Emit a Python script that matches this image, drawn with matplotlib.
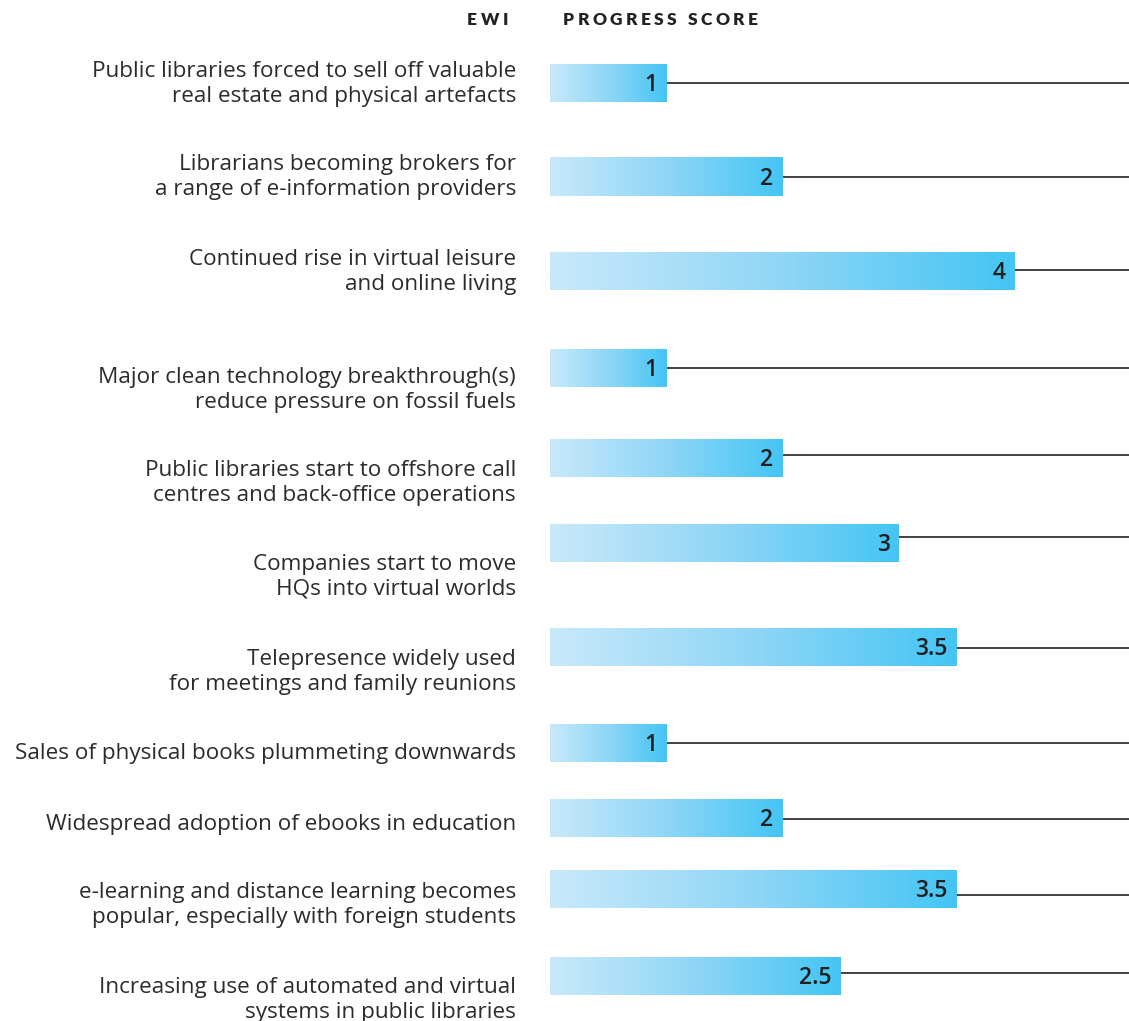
import matplotlib.pyplot as plt
import numpy as np
from matplotlib.colors import LinearSegmentedColormap

# Early warning indicators and their progress scores
indicators = [
    "Public libraries forced to sell off valuable\nreal estate and physical artefacts",
    "Librarians becoming brokers for\na range of e-information providers",
    "Continued rise in virtual leisure\nand online living",
    "Major clean technology breakthrough(s)\nreduce pressure on fossil fuels",
    "Public libraries start to offshore call\ncentres and back-office operations",
    "Companies start to move\nHQs into virtual worlds",
    "Telepresence widely used\nfor meetings and family reunions",
    "Sales of physical books plummeting downwards",
    "Widespread adoption of ebooks in education",
    "e-learning and distance learning becomes\npopular, especially with foreign students",
    "Increasing use of automated and virtual\nsystems in public libraries",
]
scores = [1, 2, 4, 1, 2, 3, 3.5, 1, 2, 3.5, 2.5]
score_labels = ["1", "2", "4", "1", "2", "3", "3.5", "1", "2", "3.5", "2.5"]

# layout (pixel rows, top-down)
bar_top = [64, 158, 252, 349, 439, 524, 628, 724, 799, 870, 957]
bar_h = 38
line_y = [83, 177, 270, 368, 455, 537, 648, 743, 819, 895, 973]
label_y = [84, 177, 272, 390, 483, 577, 672, 753, 824, 905, 1000]

W, H = 1129, 1021
x0, unit = 550, 116.25  # pixel where score 0 sits, pixels per score point

FONT = "Open Sans"
TXT = "#2b2b2b"

fig = plt.figure(figsize=(W / 100, H / 100), dpi=100)
ax = fig.add_axes([0, 0, 1, 1])
ax.axis("off")

cmap = LinearSegmentedColormap.from_list("ewi", ["#c9e9fa", "#8fd6f6", "#44c5f4"])
grad = np.linspace(0, 1, 256)[None, :]
xmax = (W - x0) / unit
px = 1 / unit

for name, v, lab, top, ly, ty in zip(indicators, scores, score_labels,
                                      bar_top, line_y, label_y):
    ax.imshow(grad, cmap=cmap, aspect="auto", interpolation="bilinear",
              extent=(0, v, top + bar_h, top), zorder=2)
    ax.plot([v, xmax], [ly, ly], color="#333333", lw=1.3, zorder=1,
            solid_capstyle="butt")
    ax.text(v - 9 * px, top + bar_h / 2 + 2, lab, ha="right", va="center",
            fontsize=16.5, fontweight="semibold", color="#1f1f1f", family=FONT,
            zorder=3)
    ax.text(-34 * px, ty, name, ha="right", va="center", fontsize=16.2,
            color=TXT, family=FONT, linespacing=1.2)

ax.set_aspect("auto")
ax.set_xlim(-x0 / unit, xmax)
ax.set_ylim(H, 0)


def tracked(x, y, s, track, align="left", **kw):
    """Draw text with extra letter spacing (x, y in pixels)."""
    r = fig.canvas.get_renderer()
    widths = []
    for ch in s:
        t = fig.text(0, 0, ch, **kw)
        widths.append(t.get_window_extent(r).width if ch != " " else None)
        t.remove()
    sp = fig.text(0, 0, "a a", **kw)
    aa = fig.text(0, 0, "aa", **kw)
    space_w = sp.get_window_extent(r).width - aa.get_window_extent(r).width
    sp.remove()
    aa.remove()
    widths = [w if w is not None else space_w for w in widths]
    total = sum(widths) + track * (len(s) - 1)
    cx = x - total if align == "right" else x
    for ch, w in zip(s, widths):
        fig.text(cx / W, 1 - y / H, ch, ha="left", va="center", **kw)
        cx += w + track


hdr = dict(fontsize=12.5, fontweight="heavy", color="#222222", family="Lato")
tracked(508, 20, "EWI", 3.4, align="right", **hdr)
tracked(563, 20, "PROGRESS SCORE", 3.4, **hdr)

plt.savefig("out.png", dpi=100)
